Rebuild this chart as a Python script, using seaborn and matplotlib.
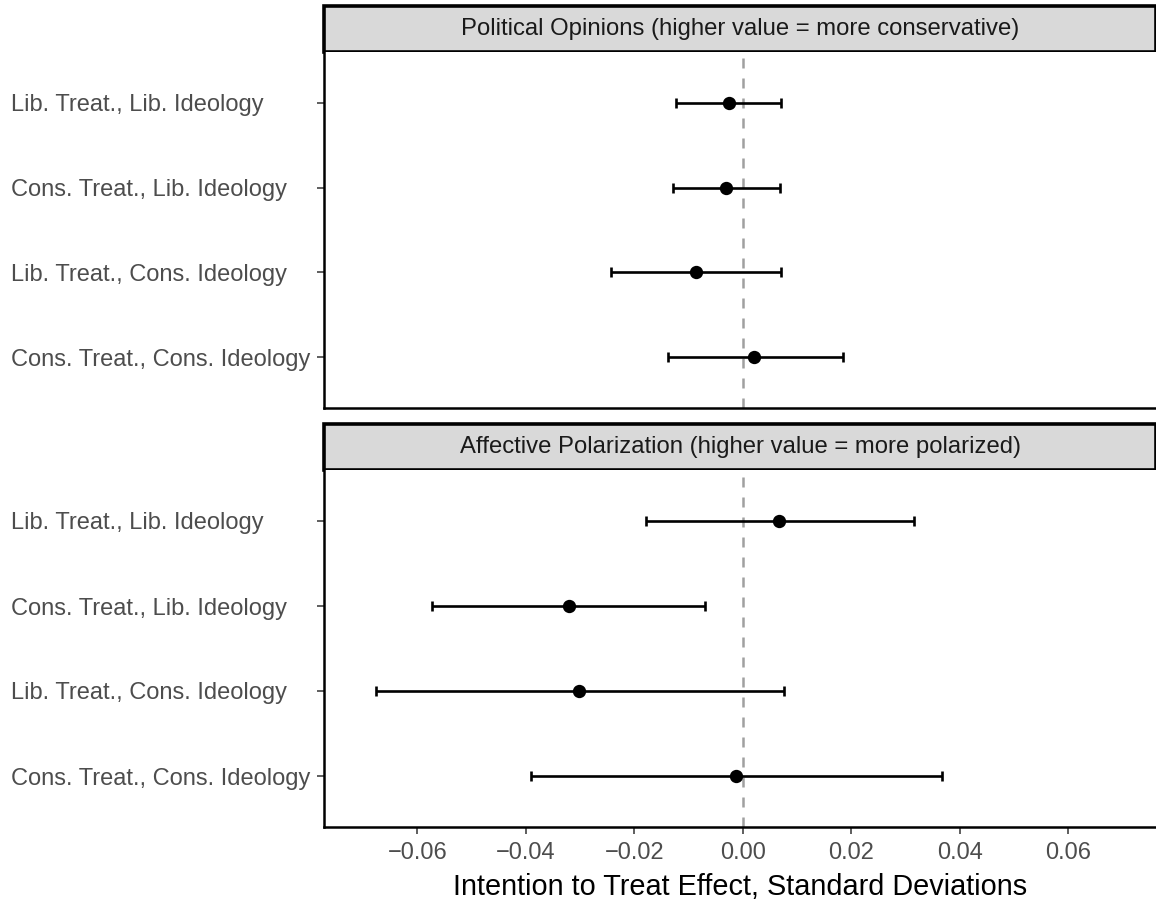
import matplotlib
matplotlib.use("Agg")
import matplotlib.pyplot as plt
import seaborn as sns
import pandas as pd
from matplotlib.patches import Rectangle

sns.set_theme(style="white")
plt.rcParams['font.family'] = ['Liberation Sans', 'DejaVu Sans']

categories = ["Lib. Treat., Lib. Ideology", "Cons. Treat., Lib. Ideology",
              "Lib. Treat., Cons. Ideology", "Cons. Treat., Cons. Ideology"]
panels = ["Political Opinions (higher value = more conservative)",
          "Affective Polarization (higher value = more polarized)"]

pol_est = [-0.0026, -0.0031, -0.0087, 0.0021]
pol_lo = [-0.0123, -0.0129, -0.0243, -0.0137]
pol_hi = [0.0071, 0.0068, 0.0070, 0.0184]

aff_est = [0.0067, -0.0321, -0.0302, -0.0012]
aff_lo = [-0.0179, -0.0572, -0.0677, -0.0390]
aff_hi = [0.0316, -0.0070, 0.0076, 0.0367]

xticks = [-0.06, -0.04, -0.02, 0.00, 0.02, 0.04, 0.06]
xlabel = "Intention to Treat Effect, Standard Deviations"

W, H = 1156, 899
fig = plt.figure(figsize=(W / 100, H / 100), dpi=100)

def fx(px):
    return px / W

def fy(py):
    return 1 - py / H

left = fx(324)
width = 1 - left

layout = [(6, 52, 408), (424, 470, 827)]
data = [(pol_est, pol_lo, pol_hi), (aff_est, aff_lo, aff_hi)]

for i, ((s_top, p_top, p_bot), (est, lo, hi)) in enumerate(zip(layout, data)):
    # strip
    sax = fig.add_axes([left, fy(p_top), width, (p_top - s_top) / H])
    sax.set_xlim(0, 1)
    sax.set_ylim(0, 1)
    sax.axis("off")
    sax.add_patch(Rectangle((0, 0), 1, 1, facecolor="#D9D9D9", edgecolor="black",
                            linewidth=2.6, transform=sax.transAxes, clip_on=False))
    sax.text(0.5, 0.5, panels[i], ha="center", va="center", fontsize=17.2,
             color="#1A1A1A")

    ax = fig.add_axes([left, fy(p_bot), width, (p_bot - p_top) / H])
    df = pd.DataFrame({"cat": categories, "est": est, "lo": lo, "hi": hi})
    ax.axvline(0, color="#A0A0A0", linestyle=(0, (4, 4)), linewidth=1.8, zorder=1)
    ax.errorbar(df["est"], df["cat"],
                xerr=[df["est"] - df["lo"], df["hi"] - df["est"]],
                fmt="none", ecolor="black", elinewidth=1.9, capsize=3.6,
                capthick=1.9, zorder=2)
    sns.scatterplot(data=df, x="est", y="cat", ax=ax, color="black", s=92,
                    edgecolor="black", linewidth=0, zorder=3, legend=False)
    ax.set_xlim(-0.0772, 0.0762)
    ax.set_ylim(3.6, -0.6)
    for side in ["top", "right"]:
        ax.spines[side].set_visible(False)
    for side in ["left", "bottom"]:
        ax.spines[side].set_color("black")
        ax.spines[side].set_linewidth(1.8)
    ax.set_ylabel("")
    ax.set_xlabel("")
    ax.tick_params(axis="y", left=True, length=5, width=1.1, color="#333333",
                   labelsize=17, labelcolor="#4D4D4D", pad=220.5)
    for lab in ax.get_yticklabels():
        lab.set_ha("left")
    ax.set_xticks(xticks)
    if i == 0:
        ax.tick_params(axis="x", bottom=False, labelbottom=False)
    else:
        ax.set_xticklabels([f"{t:.2f}".replace("-", "\u2212") for t in xticks])
        ax.tick_params(axis="x", bottom=True, length=5, width=1.1, color="#333333",
                       labelsize=17, labelcolor="#4D4D4D", pad=6)
        ax.set_xlabel(xlabel, fontsize=20.8, color="black", labelpad=6)
    ax.grid(False)

fig.savefig("out.png", dpi=100)
